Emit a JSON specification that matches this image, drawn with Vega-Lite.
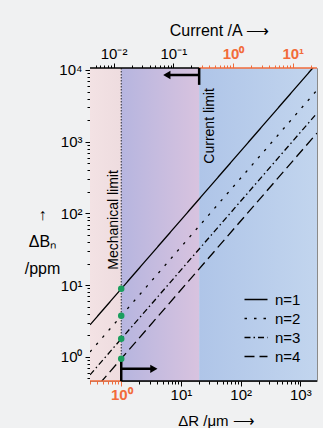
{
  "$schema": "https://vega.github.io/schema/vega-lite/v6.json",
  "width": 227,
  "height": 313,
  "autosize": {"type": "none"},
  "padding": {"left": 90, "top": 68, "right": 6, "bottom": 47},
  "background": "#f0f1f2",
  "config": {
    "font": "Liberation Sans",
    "view": {"stroke": "#8a8a8a", "strokeWidth": 1},
    "axis": {"grid": false, "zindex": 1, "labelFontSize": 15, "labelColor": "black", "titleFontSize": 15, "titleFontWeight": "normal", "titleColor": "black", "tickColor": "black", "domainColor": "black", "labelFlush": false, "labelOverlap": false}
  },
  "datasets": {
    "regions": [
      {"dR": 0.3, "dR2": 1, "region": "mech"},
      {"dR": 1, "dR2": 20.2, "region": "mid"},
      {"dR": 20.2, "dR2": 1900, "region": "curr"}
    ],
    "lines": [
      {"n": "n=1", "dR": 0.3, "dB": 2.79}, {"n": "n=1", "dR": 1900, "dB": 12460},
      {"n": "n=2", "dR": 0.3, "dB": 1.17}, {"n": "n=2", "dR": 1900, "dB": 5240},
      {"n": "n=3", "dR": 0.3, "dB": 0.56}, {"n": "n=3", "dR": 1900, "dB": 2500},
      {"n": "n=4", "dR": 0.3, "dB": 0.296}, {"n": "n=4", "dR": 1900, "dB": 1320}
    ],
    "dots": [{"dR": 1, "dB": 8.87}, {"dR": 1, "dB": 3.73}, {"dR": 1, "dB": 1.78}, {"dR": 1, "dB": 0.94}],
    "edges": [
      {"dR": 0.3, "dR2": 20.2, "dB": 10660, "seg": "normal"},
      {"dR": 20.2, "dR2": 1900, "dB": 10660, "seg": "highlight"},
      {"dR": 0.3, "dR2": 1, "dB": 0.46, "seg": "highlight"},
      {"dR": 1, "dR2": 1900, "dB": 0.46, "seg": "normal"}
    ],
    "brackets": [{"dR": 20.2, "dB": 6200, "dB2": 10660}, {"dR": 1, "dB": 0.46, "dB2": 0.95}],
    "arrows": [{"dR": 20.2, "dR2": 5.8, "dB": 8520}, {"dR": 1, "dR2": 3.52, "dB": 0.68}],
    "heads": [{"dR": 5.8, "dB": 8520, "dir": "left"}, {"dR": 3.52, "dB": 0.68, "dir": "right"}],
    "labels": [{"dR": 0.745, "dB": 81, "text": "Mechanical limit"}, {"dR": 30.9, "dB": 1660, "text": "Current limit"}]
  },
  "layer": [
    {
      "layer": [
        {
          "data": {"name": "regions"},
          "transform": [{"filter": "datum.region === 'mech'"}],
          "mark": {"type": "rect", "color": {"gradient": "linear", "x1": 0, "x2": 1, "y1": 0, "y2": 0, "stops": [{"offset": 0, "color": "#f3e2e4"}, {"offset": 1, "color": "#eedcdf"}]}},
          "encoding": {
            "x": {"field": "dR", "type": "quantitative", "scale": {"type": "log", "domain": [0.3, 1900], "nice": false},
              "axis": {"orient": "bottom", "title": "ΔR /μm ⟶", "titleX": 126, "titleY": 39, "titleAlign": "center", "titleBaseline": "middle", "domain": false,
                "values": [0.3,0.4,0.5,0.6,0.7,0.8,0.9,1,2,3,4,5,6,7,8,9,10,20,30,40,50,60,70,80,90,100,200,300,400,500,600,700,800,900,1000],
                "labelExpr": "datum.value===1?'10⁰':datum.value===10?'10¹':datum.value===100?'10²':datum.value===1000?'10³':''",
                "labelColor": {"condition": {"test": "datum.value===1", "value": "#f26b3a"}, "value": "black"},
                "labelFontWeight": {"condition": {"test": "datum.value===1", "value": "bold"}, "value": "normal"},
                "tickColor": {"condition": {"test": "datum.value<=1", "value": "#f26b3a"}, "value": "black"},
                "tickSize": {"condition": {"test": "indexof([1,10,100,1000], datum.value) >= 0", "value": 5}, "value": 3},
                "labelPadding": 1}},
            "x2": {"field": "dR2"}
          }
        },
        {
          "data": {"name": "regions"},
          "transform": [{"filter": "datum.region === 'mid'"}],
          "mark": {"type": "rect", "color": {"gradient": "linear", "x1": 0, "x2": 1, "y1": 0, "y2": 0, "stops": [{"offset": 0, "color": "#b6b5df"}, {"offset": 1, "color": "#d8c3df"}]}},
          "encoding": {"x": {"field": "dR", "type": "quantitative"}, "x2": {"field": "dR2"}}
        },
        {
          "data": {"name": "regions"},
          "transform": [{"filter": "datum.region === 'curr'"}],
          "mark": {"type": "rect", "color": {"gradient": "linear", "x1": 0, "x2": 1, "y1": 0, "y2": 0, "stops": [{"offset": 0, "color": "#afc5e8"}, {"offset": 1, "color": "#c2d5ee"}]}},
          "encoding": {"x": {"field": "dR", "type": "quantitative"}, "x2": {"field": "dR2"}}
        },
        {
          "data": {"values": [{"dR": 1}]},
          "mark": {"type": "rule", "color": "black", "strokeWidth": 0.8, "strokeDash": [1.5, 1.5]},
          "encoding": {"x": {"field": "dR", "type": "quantitative"}}
        },
        {
          "data": {"name": "lines"},
          "mark": {"type": "line", "color": "black", "strokeWidth": 1.3, "clip": true},
          "encoding": {
            "x": {"field": "dR", "type": "quantitative"},
            "y": {"field": "dB", "type": "quantitative", "scale": {"type": "log", "domain": [0.46, 10660], "nice": false},
              "axis": {"title": ["↑", "ΔBₙ", "/ppm"], "titleAngle": 0, "titleAlign": "center", "titleBaseline": "middle", "titleX": -48, "titleY": 146, "titleLineHeight": 27, "titleFontSize": 16,
                "values": [0.5,0.6,0.7,0.8,0.9,1,2,3,4,5,6,7,8,9,10,20,30,40,50,60,70,80,90,100,200,300,400,500,600,700,800,900,1000,2000,3000,4000,5000,6000,7000,8000,9000,10000],
                "labelExpr": "datum.value===1?'10⁰':datum.value===10?'10¹':datum.value===100?'10²':datum.value===1000?'10³':datum.value===10000?'10⁴':''",
                "tickSize": {"condition": {"test": "indexof([1,10,100,1000,10000], datum.value) >= 0", "value": 5}, "value": 3},
                "labelPadding": 3}},
            "strokeDash": {"field": "n", "type": "nominal",
              "scale": {"domain": ["n=1", "n=2", "n=3", "n=4"], "range": [[1, 0], [2.5, 7], [6, 3, 1.5, 3], [10, 5]]},
              "legend": {"orient": "none", "legendX": 158.5, "legendY": 224, "title": null, "symbolType": "M-2.3,0H2.3", "symbolStrokeColor": "black", "symbolStrokeWidth": 1.5, "symbolSize": 100, "labelOffset": 11.5, "labelFontSize": 15, "labelColor": "black", "rowPadding": 3}}
          }
        },
        {
          "data": {"name": "edges"},
          "mark": {"type": "rule", "strokeWidth": 1.5},
          "encoding": {
            "x": {"field": "dR", "type": "quantitative"}, "x2": {"field": "dR2"},
            "y": {"field": "dB", "type": "quantitative"},
            "color": {"field": "seg", "type": "nominal", "scale": {"domain": ["normal", "highlight"], "range": ["black", "#f26b3a"]}, "legend": null}
          }
        },
        {
          "data": {"name": "brackets"},
          "mark": {"type": "rule", "strokeWidth": 2.5, "color": "black"},
          "encoding": {"x": {"field": "dR", "type": "quantitative"}, "y": {"field": "dB", "type": "quantitative"}, "y2": {"field": "dB2"}}
        },
        {
          "data": {"name": "arrows"},
          "mark": {"type": "rule", "strokeWidth": 2.5, "color": "black"},
          "encoding": {"x": {"field": "dR", "type": "quantitative"}, "x2": {"field": "dR2"}, "y": {"field": "dB", "type": "quantitative"}}
        },
        {
          "data": {"name": "heads"},
          "mark": {"type": "point", "filled": true, "color": "black", "size": 70, "opacity": 1},
          "encoding": {
            "x": {"field": "dR", "type": "quantitative"}, "y": {"field": "dB", "type": "quantitative"},
            "shape": {"field": "dir", "type": "nominal", "scale": {"domain": ["left", "right"], "range": ["triangle-left", "triangle-right"]}, "legend": null}
          }
        },
        {
          "data": {"name": "dots"},
          "mark": {"type": "circle", "color": "#1a9e5e", "size": 42, "opacity": 1},
          "encoding": {"x": {"field": "dR", "type": "quantitative"}, "y": {"field": "dB", "type": "quantitative"}}
        },
        {
          "data": {"name": "labels"},
          "mark": {"type": "text", "angle": 270, "align": "center", "baseline": "middle", "fontSize": 14, "color": "black"},
          "encoding": {"x": {"field": "dR", "type": "quantitative"}, "y": {"field": "dB", "type": "quantitative"}, "text": {"field": "text"}}
        }
      ]
    },
    {
      "data": {"values": [{"cur": 0.004026}, {"cur": 25.5}]},
      "mark": {"type": "point", "opacity": 0},
      "encoding": {
        "x": {"field": "cur", "type": "quantitative", "scale": {"type": "log", "domain": [0.004026, 25.5], "nice": false},
          "axis": {"orient": "top", "title": "Current /A ⟶", "titleX": 129, "titleY": -38, "titleAlign": "center", "titleBaseline": "middle", "titleFontSize": 16, "domain": false,
            "values": [0.005,0.006,0.007,0.008,0.009,0.01,0.02,0.03,0.04,0.05,0.06,0.07,0.08,0.09,0.1,0.2,0.3,0.4,0.5,0.6,0.7,0.8,0.9,1,2,3,4,5,6,7,8,9,10,20],
            "labelExpr": "datum.value===0.01?'10⁻²':datum.value===0.1?'10⁻¹':datum.value===1?'10⁰':datum.value===10?'10¹':''",
            "labelColor": {"condition": {"test": "datum.value>=1", "value": "#f26b3a"}, "value": "black"},
            "labelFontWeight": {"condition": {"test": "datum.value>=1", "value": "bold"}, "value": "normal"},
            "tickColor": {"condition": {"test": "datum.value>=0.27", "value": "#f26b3a"}, "value": "black"},
            "tickSize": {"condition": {"test": "indexof([0.01,0.1,1,10], datum.value) >= 0", "value": 5}, "value": 3},
            "labelPadding": 2}}
      }
    }
  ],
  "resolve": {"scale": {"x": "independent"}}
}
